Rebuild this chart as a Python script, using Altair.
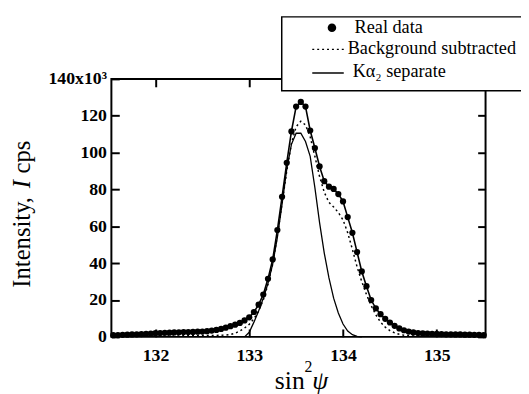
import altair as alt
import pandas as pd

# ---------------- data ----------------
x_grid = [131.55, 131.60, 131.65, 131.70, 131.75, 131.80, 131.85, 131.90, 131.95, 132.00,
          132.05, 132.10, 132.15, 132.20, 132.25, 132.30, 132.35, 132.40, 132.45, 132.50,
          132.55, 132.60, 132.65, 132.70, 132.75, 132.80, 132.85, 132.90, 132.95, 133.00,
          133.05, 133.10, 133.15, 133.20, 133.25, 133.30, 133.35, 133.40, 133.45, 133.50,
          133.55, 133.60, 133.65, 133.70, 133.75, 133.80, 133.85, 133.90, 133.95, 134.00,
          134.05, 134.10, 134.15, 134.20, 134.25, 134.30, 134.35, 134.40, 134.45, 134.50,
          134.55, 134.60, 134.65, 134.70, 134.75, 134.80, 134.85, 134.90, 134.95, 135.00,
          135.05, 135.10, 135.15, 135.20, 135.25, 135.30, 135.35, 135.40, 135.45, 135.50]

real_data = [0.9, 1.0, 1.1, 1.2, 1.3, 1.4, 1.5, 1.7, 1.8, 2.0,
             2.1, 2.2, 2.3, 2.4, 2.5, 2.6, 2.6, 2.7, 2.8, 2.9,
             3.1, 3.4, 3.8, 4.3, 5.0, 5.8, 6.6, 7.6, 8.9, 10.6,
             13.5, 17.5, 23.0, 31.5, 42.0, 58.0, 76.0, 94.5, 111.5, 125.0,
             127.5, 125.0, 112.0, 102.5, 92.5, 84.5, 81.5, 80.3, 77.5, 73.5,
             65.0, 56.5, 46.0, 35.5, 27.5, 20.0, 15.5, 12.3, 9.8, 7.8,
             6.0, 4.6, 3.6, 2.9, 2.4, 2.1, 1.9, 1.8, 1.7, 1.6,
             1.5, 1.4, 1.4, 1.3, 1.3, 1.2, 1.2, 1.1, 1.1, 1.0]

bg_subtracted = [0.3, 0.3, 0.3, 0.3, 0.3, 0.3, 0.3, 0.3, 0.4, 0.4,
                 0.4, 0.4, 0.5, 0.5, 0.5, 0.6, 0.6, 0.6, 0.7, 0.7,
                 0.7, 0.8, 0.8, 0.9, 1.0, 1.3, 2.0, 3.2, 4.8, 6.8,
                 9.8, 14.0, 20.0, 28.5, 39.5, 55.0, 72.5, 90.0, 105.0, 114.0,
                 117.0, 115.0, 108.5, 98.0, 87.0, 78.5, 73.0, 70.5, 67.5, 63.5,
                 56.5, 47.5, 38.0, 30.0, 23.0, 17.0, 12.0, 8.0, 5.3, 3.4,
                 2.2, 1.4, 0.9, 0.6, 0.5, 0.4, 0.4, 0.3, 0.3, 0.3,
                 0.3, 0.3, 0.3, 0.3, 0.3, 0.3, 0.3, 0.3, 0.3, 0.3]

ka2_x = [132.95, 133.00, 133.05, 133.10, 133.15, 133.20, 133.25, 133.30, 133.35, 133.40,
         133.45, 133.50, 133.55, 133.60, 133.65, 133.70, 133.75, 133.80, 133.85, 133.90,
         133.95, 134.00, 134.05, 134.10, 134.15, 134.20]
ka2_y = [0.0, 2.5, 8.0, 14.0, 21.0, 29.0, 39.5, 54.0, 72.0, 91.0,
         104.5, 110.5, 110.5, 106.0, 98.0, 81.0, 62.0, 45.5, 32.0, 21.0,
         13.0, 7.0, 3.2, 1.2, 0.3, 0.0]

x_ticks = [132, 133, 134, 135]
y_ticks = [0, 20, 40, 60, 80, 100, 120, 140]

legend_labels = ["Real data", "Background subtracted", "K\u03b1\u2082 separate"]

# ---------------- frames ----------------
df_real = pd.DataFrame({"x": x_grid, "y": real_data})
df_bg = pd.DataFrame({"x": x_grid, "y": bg_subtracted})
df_ka2 = pd.DataFrame({"x": ka2_x, "y": ka2_y})
one = pd.DataFrame({"a": [0]})

SERIF = "Liberation Serif"
LABEL_SIZE = 18
xscale = alt.Scale(domain=[131.53, 135.52], nice=False, zero=False)
yscale = alt.Scale(domain=[0, 140], nice=False)

common_axis = dict(offset=-8, domain=False, grid=False, ticks=True, tickSize=8,
                   tickWidth=2, tickColor="black", title=None,
                   labelFont=SERIF, labelFontSize=LABEL_SIZE, labelFontWeight="bold",
                   labelColor="black")

ax_bottom = alt.Axis(orient="bottom", values=x_ticks, labelPadding=10, **common_axis)
ax_top = alt.Axis(orient="top", values=x_ticks, labels=False, **common_axis)
ax_left = alt.Axis(orient="left", values=y_ticks, labelPadding=5,
                   labelExpr="datum.value == 140 ? '140x10\u00b3' : datum.label",
                   **common_axis)
ax_right = alt.Axis(orient="right", values=y_ticks, labels=False, **common_axis)

real_line = alt.Chart(df_real).mark_line(color="black", strokeWidth=1.6).encode(
    x=alt.X("x:Q", scale=xscale, axis=ax_bottom),
    y=alt.Y("y:Q", scale=yscale, axis=ax_left),
)
real_pts = alt.Chart(df_real).mark_point(filled=True, color="black", size=40, opacity=1).encode(
    x=alt.X("x:Q", scale=xscale, axis=None),
    y=alt.Y("y:Q", scale=yscale, axis=None),
)
bg_line = alt.Chart(df_bg).mark_line(color="black", strokeWidth=1.5, strokeDash=[2, 3]).encode(
    x=alt.X("x:Q", scale=xscale, axis=None),
    y=alt.Y("y:Q", scale=yscale, axis=None),
)
ka2_line = alt.Chart(df_ka2).mark_line(color="black", strokeWidth=1.3).encode(
    x=alt.X("x:Q", scale=xscale, axis=ax_top),
    y=alt.Y("y:Q", scale=yscale, axis=ax_right),
)

# ---------------- legend (drawn by hand) ----------------
leg_box = alt.Chart(one).mark_rect(fill="white", stroke="black", strokeWidth=1.5).encode(
    x=alt.value(173), x2=alt.value(430), y=alt.value(-63), y2=alt.value(12))
leg_dot = alt.Chart(one).mark_point(filled=True, color="black", size=75, opacity=1).encode(
    x=alt.value(224), y=alt.value(-52))
leg_dash = alt.Chart(one).mark_rule(color="black", strokeWidth=1.5, strokeDash=[2, 3]).encode(
    x=alt.value(204), x2=alt.value(237), y=alt.value(-30))
leg_solid = alt.Chart(one).mark_rule(color="black", strokeWidth=1.5).encode(
    x=alt.value(204), x2=alt.value(236), y=alt.value(-6))

def leg_text(label, x, y):
    return alt.Chart(one).mark_text(align="left", baseline="middle", font=SERIF,
                                    fontSize=18.5, color="black", text=label).encode(
        x=alt.value(x), y=alt.value(y))

t1 = leg_text(legend_labels[0], 247, -53)
t2 = leg_text(legend_labels[1], 240, -31)
t3 = leg_text(legend_labels[2], 245, -8)

# ---------------- axis titles (text pieces) ----------------
def txt(label, x, y, size=24, style="normal", align="left", baseline="alphabetic", angle=0):
    kw = dict(align=align, baseline=baseline, font=SERIF, fontSize=size,
              color="black", text=label, fontStyle=style)
    if angle:
        kw["angle"] = angle
    return alt.Chart(one).mark_text(**kw).encode(x=alt.value(x), y=alt.value(y))

yt1 = txt("Intensity,", -83, 212, size=25, angle=270)
yt2 = txt("I", -83, 111, size=25, style="italic", angle=270)
yt3 = txt("cps", -83, 96, size=25, angle=270)

xt1 = txt("sin", 166, 315, size=26)
xt2 = txt("2", 196, 298, size=16)
xt3 = txt("\u03c8", 204, 315, size=26, style="italic")

chart = alt.layer(
    real_line, bg_line, ka2_line, real_pts,
    leg_box, leg_dot, leg_dash, leg_solid, t1, t2, t3,
    yt1, yt2, yt3, xt1, xt2, xt3,
).properties(
    width=380, height=262,
    padding={"left": 105, "top": 69, "right": 36, "bottom": 55},
    autosize=alt.AutoSizeParams(type="none"),
    background="white",
).configure_view(
    stroke="black", strokeWidth=2
).configure_axis(
    labelFont=SERIF, labelFontSize=LABEL_SIZE, labelFontWeight="bold", labelColor="black"
)

chart.save("out.html", embed_options={"renderer": "svg", "actions": False})
